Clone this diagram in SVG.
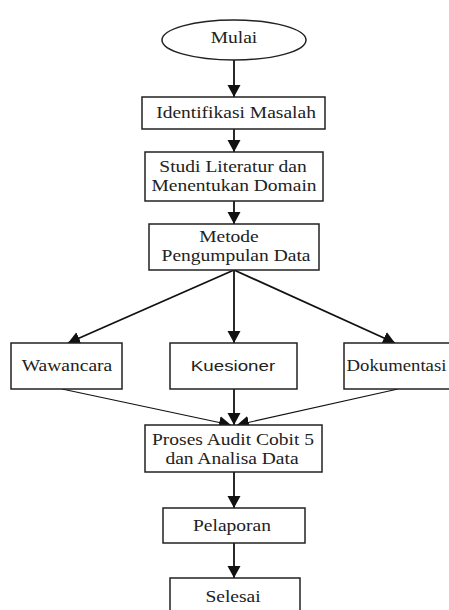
<svg xmlns="http://www.w3.org/2000/svg" width="449" height="610" viewBox="0 0 449 610">
<style>
.box{fill:#fff;stroke:#222;stroke-width:1.5}
.t{font-family:"Liberation Serif","Times New Roman",serif;font-size:16px;fill:#222;text-anchor:middle}
.s{font-family:"Liberation Sans",Arial,sans-serif;font-size:15px;fill:#222;text-anchor:middle}
.c{stroke:#111;stroke-width:1.8;fill:none}
.thin{stroke:#111;stroke-width:1.2;fill:none}
</style>
<defs>
<marker id="ah" markerUnits="userSpaceOnUse" markerWidth="14" markerHeight="14" refX="12" refY="7" orient="auto">
<path d="M0,0.5 L12,7 L0,13.5 z" fill="#111"/>
</marker>
</defs>
<rect width="449" height="610" fill="#fff"/>
<g id="connectors">
<line class="c" x1="234" y1="60" x2="234" y2="97" marker-end="url(#ah)"/>
<line class="c" x1="234" y1="129" x2="234" y2="152" marker-end="url(#ah)"/>
<line class="c" x1="234" y1="201" x2="234" y2="224" marker-end="url(#ah)"/>
<line class="c" x1="234" y1="270" x2="68" y2="343" marker-end="url(#ah)"/>
<line class="c" x1="234" y1="270" x2="234" y2="343" marker-end="url(#ah)"/>
<line class="c" x1="234" y1="270" x2="395" y2="343" marker-end="url(#ah)"/>
<line class="thin" x1="62" y1="389" x2="231" y2="425" marker-end="url(#ah)"/>
<line class="c" x1="234" y1="389" x2="234" y2="425" marker-end="url(#ah)"/>
<line class="thin" x1="398" y1="389" x2="237" y2="425" marker-end="url(#ah)"/>
<line class="c" x1="234" y1="472" x2="234" y2="508" marker-end="url(#ah)"/>
<line class="c" x1="234" y1="543" x2="234" y2="578" marker-end="url(#ah)"/>
</g>
<g id="mulai">
<ellipse class="box" cx="234" cy="40" rx="72" ry="20"/>
<text class="t" transform="translate(234,43) scale(1.22,1)">Mulai</text>
</g>
<g id="identifikasi">
<rect class="box" x="142" y="97" width="183" height="32"/>
<text class="t" transform="translate(236,118) scale(1.22,1)">Identifikasi Masalah</text>
</g>
<g id="studi">
<rect class="box" x="145" y="152" width="178" height="49"/>
<text class="t" transform="translate(233,172) scale(1.22,1)">Studi Literatur dan</text>
<text class="t" transform="translate(234,191) scale(1.22,1)">Menentukan Domain</text>
</g>
<g id="metode">
<rect class="box" x="149" y="224" width="170" height="46" stroke="#555"/>
<text class="t" transform="translate(229,242) scale(1.22,1)">Metode</text>
<text class="t" transform="translate(236,261) scale(1.22,1)">Pengumpulan Data</text>
</g>
<g id="wawancara">
<rect class="box" x="11" y="343" width="111" height="46"/>
<text class="t" transform="translate(67,371) scale(1.22,1)">Wawancara</text>
</g>
<g id="kuesioner">
<rect class="box" x="170" y="343" width="127" height="46"/>
<text class="s" transform="translate(233,371) scale(1.25,1)">Kuesioner</text>
</g>
<g id="dokumentasi">
<rect class="box" x="344" y="343" width="114" height="46"/>
<text class="t" transform="translate(396.5,371) scale(1.17,1)">Dokumentasi</text>
</g>
<g id="proses">
<rect class="box" x="145" y="425" width="177" height="47"/>
<text class="t" transform="translate(233,445) scale(1.22,1)">Proses Audit Cobit 5</text>
<text class="t" transform="translate(232,464) scale(1.22,1)">dan Analisa Data</text>
</g>
<g id="pelaporan">
<rect class="box" x="163" y="508" width="142" height="35"/>
<text class="t" transform="translate(232,531) scale(1.22,1)">Pelaporan</text>
</g>
<g id="selesai">
<rect class="box" x="170" y="578" width="130" height="40"/>
<text class="t" transform="translate(233,602) scale(1.22,1)">Selesai</text>
</g>
</svg>
